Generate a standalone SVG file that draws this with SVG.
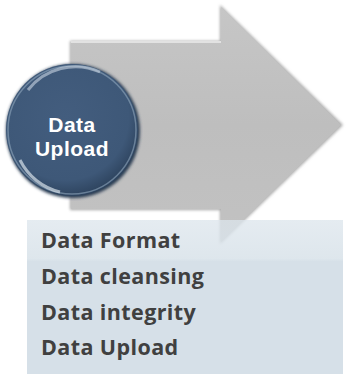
<svg xmlns="http://www.w3.org/2000/svg" width="346" height="375" viewBox="0 0 346 375">
<defs>
<linearGradient id="arrowG" x1="0" y1="0" x2="0" y2="1">
<stop offset="0" stop-color="#c6c6c6"/>
<stop offset="0.5" stop-color="#bebebe"/>
<stop offset="1" stop-color="#c2c2c2"/>
</linearGradient>
<radialGradient id="ballG" cx="0.45" cy="0.4" r="0.6">
<stop offset="0" stop-color="#435d7e"/>
<stop offset="0.8" stop-color="#3e5878"/>
<stop offset="1" stop-color="#2e445f"/>
</radialGradient>
<linearGradient id="boxG" x1="0" y1="0" x2="0" y2="1">
<stop offset="0" stop-color="#dce5ec" stop-opacity="0.75"/>
<stop offset="0.25" stop-color="#d8e2e9" stop-opacity="0.85"/>
<stop offset="0.27" stop-color="#d6e0e8"/>
<stop offset="1" stop-color="#d6e0e8"/>
</linearGradient>
<filter id="soft" x="-10%" y="-10%" width="120%" height="120%">
<feGaussianBlur stdDeviation="1.5"/>
</filter>
</defs>
<style>
.lbl{font-family:"Open Sans","Liberation Sans",sans-serif;font-weight:bold;}
.item{fill:#404040;font-size:21.5px;letter-spacing:0.4px;}
.ball{font-family:"Liberation Sans",Arial,sans-serif;font-weight:bold;fill:#ffffff;font-size:21px;text-anchor:middle;letter-spacing:0.5px;}
</style>
<g id="arrow">
<path d="M70 41 L220 41 L220 5 L343 125 L220 244 L220 210 L70 210 Z" fill="#a9a9a9" filter="url(#soft)"/>
<path d="M71 42 L221 42 L221 7 L341 125 L221 242 L221 209 L71 209 Z" fill="url(#arrowG)"/>
<path d="M71 42 L221 42" stroke="#e2e2e2" stroke-width="2" fill="none"/>
</g>
<g id="details">
<rect x="27" y="220" width="316" height="154" fill="url(#boxG)"/>
<text class="lbl item" x="41" y="248">Data Format</text>
<text class="lbl item" x="41" y="284">Data cleansing</text>
<text class="lbl item" x="41" y="320">Data integrity</text>
<text class="lbl item" x="41" y="355">Data Upload</text>
</g>
<g id="upload">
<circle cx="73" cy="131" r="67" fill="#2a3c52" filter="url(#soft)"/>
<circle cx="72" cy="130" r="66" fill="url(#ballG)"/>
<circle cx="72" cy="130" r="64" fill="none" stroke="#8fa6bd" stroke-width="1.5" opacity="0.6"/>
<path d="M28 90 A60 60 0 0 1 100 72" stroke="#c9d6e3" stroke-width="3" fill="none" opacity="0.6"/>
<path d="M20 160 A60 60 0 0 0 60 192" stroke="#d7e1ea" stroke-width="3" fill="none" opacity="0.7"/>
<text class="ball" x="72" y="132">Data</text>
<text class="ball" x="72" y="156">Upload</text>
</g>
</svg>
